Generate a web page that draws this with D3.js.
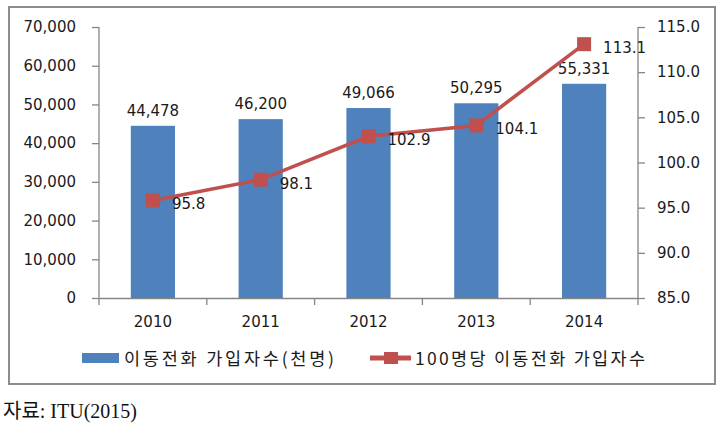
<!DOCTYPE html>
<html>
<head>
<meta charset="utf-8">
<script src="https://cdn.jsdelivr.net/npm/d3@7"></script>
<style>
  body { margin: 0; background: #fff; }
  text { font-family: "DejaVu Sans", Verdana, sans-serif; fill: #1a1a1a; }
  .kr { font-family: "Noto Sans CJK KR", sans-serif; }
</style>
</head>
<body>
<div id="chart"></div>
<script>
  var years = ["2010", "2011", "2012", "2013", "2014"];
  var subscribers = [44478, 46200, 49066, 50295, 55331];
  var per100 = [95.8, 98.1, 102.9, 104.1, 113.1];
  var leftTicks = [0, 10000, 20000, 30000, 40000, 50000, 60000, 70000];
  var rightTicks = [85, 90, 95, 100, 105, 110, 115];
  var barName = "이동전화 가입자수(천명)";
  var lineName = "100명당 이동전화 가입자수";
  var source = "자료: ITU(2015)";

  var width = 723, height = 427;
  var plotL = 99, plotR = 638, plotT = 27, plotB = 298;
  var blue = "#4f81bd", red = "#c0504d", axisGray = "#868686";

  var svg = d3.select("#chart").append("svg")
    .attr("width", width).attr("height", height);

  // outer frame
  svg.append("rect")
    .attr("x", 9).attr("y", 7).attr("width", 706).attr("height", 377)
    .attr("fill", "#fff").attr("stroke", "#8c8c8c").attr("stroke-width", 2);

  var x = d3.scaleBand().domain(years).range([plotL, plotR]).padding(0);
  var yL = d3.scaleLinear().domain([0, 70000]).range([plotB, plotT]);
  var yR = d3.scaleLinear().domain([85, 115]).range([plotB, plotT]);
  var barW = x.bandwidth() * 0.41;

  // left axis
  var gl = svg.append("g").attr("transform", "translate(" + plotL + ",0)")
    .call(d3.axisLeft(yL).tickValues(leftTicks).tickSize(7).tickPadding(16)
      .tickFormat(d3.format(",")));
  // right axis
  var gr = svg.append("g").attr("transform", "translate(" + plotR + ",0)")
    .call(d3.axisRight(yR).tickValues(rightTicks).tickSize(7).tickPadding(12)
      .tickFormat(d3.format(".1f")));
  // bottom axis
  var gb = svg.append("g").attr("transform", "translate(0," + plotB + ")")
    .call(d3.axisBottom(x).tickValues([]).tickSizeOuter(0));
  gb.selectAll(".tk").data(d3.range(years.length + 1)).enter().append("line")
    .attr("x1", function(i) { return plotL + i * x.step(); })
    .attr("x2", function(i) { return plotL + i * x.step(); })
    .attr("y1", 0).attr("y2", 7).attr("stroke", axisGray).attr("stroke-width", 1.3);
  gb.selectAll(".yr").data(years).enter().append("text")
    .attr("x", function(d) { return x(d) + x.bandwidth() / 2; })
    .attr("y", 29).attr("text-anchor", "middle")
    .style("font-size", "15px").style("fill", "#1a1a1a")
    .text(function(d) { return d; });

  [gl, gr, gb].forEach(function(g) {
    g.select(".domain").attr("stroke", axisGray).attr("stroke-width", 1.3);
    g.selectAll(".tick line").attr("stroke", axisGray).attr("stroke-width", 1.3);
    g.selectAll(".tick text").style("font-size", "15px").style("fill", "#1a1a1a")
      .attr("font-family", "DejaVu Sans");
  });
  gl.select(".domain").attr("d", "M0," + plotT + "V" + plotB);
  gr.select(".domain").attr("d", "M0," + plotT + "V" + plotB);

  // bars
  svg.selectAll(".bar").data(subscribers).enter().append("rect")
    .attr("x", function(d, i) { return x(years[i]) + (x.bandwidth() - barW) / 2; })
    .attr("y", function(d) { return yL(d); })
    .attr("width", barW)
    .attr("height", function(d) { return plotB - yL(d); })
    .attr("fill", blue);
  svg.selectAll(".blab").data(subscribers).enter().append("text")
    .attr("x", function(d, i) { return x(years[i]) + x.bandwidth() / 2; })
    .attr("y", function(d) { return yL(d) - 10; })
    .attr("text-anchor", "middle").style("font-size", "15px")
    .text(function(d) { return d3.format(",")(d); });

  // line
  var line = d3.line()
    .x(function(d, i) { return x(years[i]) + x.bandwidth() / 2; })
    .y(function(d) { return yR(d); });
  svg.append("path").datum(per100).attr("d", line)
    .attr("fill", "none").attr("stroke", red).attr("stroke-width", 3.5);
  svg.selectAll(".mk").data(per100).enter().append("rect")
    .attr("x", function(d, i) { return x(years[i]) + x.bandwidth() / 2 - 7; })
    .attr("y", function(d) { return yR(d) - 7; })
    .attr("width", 14).attr("height", 14).attr("fill", red);
  svg.selectAll(".llab").data(per100).enter().append("text")
    .attr("x", function(d, i) { return x(years[i]) + x.bandwidth() / 2 + 19; })
    .attr("y", function(d) { return yR(d) + 9; })
    .style("font-size", "15px")
    .text(function(d) { return d3.format(".1f")(d); });

  // legend
  var lg = svg.append("g");
  lg.append("rect").attr("x", 82).attr("y", 353).attr("width", 37).attr("height", 10).attr("fill", blue);
  lg.append("text").attr("class", "kr").attr("x", 124).attr("y", 365)
    .attr("textLength", 210).attr("lengthAdjust", "spacing")
    .style("font-size", "17.5px").text(barName);
  lg.append("line").attr("x1", 370).attr("x2", 411).attr("y1", 358).attr("y2", 358)
    .attr("stroke", red).attr("stroke-width", 5);
  lg.append("rect").attr("x", 384).attr("y", 352).attr("width", 14).attr("height", 12).attr("fill", red);
  lg.append("text").attr("class", "kr").attr("x", 415).attr("y", 365)
    .attr("textLength", 230).attr("lengthAdjust", "spacing")
    .style("font-size", "17.5px").text(lineName);

  // source
  svg.append("text").attr("x", 3).attr("y", 418)
    .style("font-family", "'Liberation Serif', 'Noto Sans CJK KR', serif")
    .style("font-size", "20px").style("fill", "#111").text(source);
</script>
</body>
</html>
